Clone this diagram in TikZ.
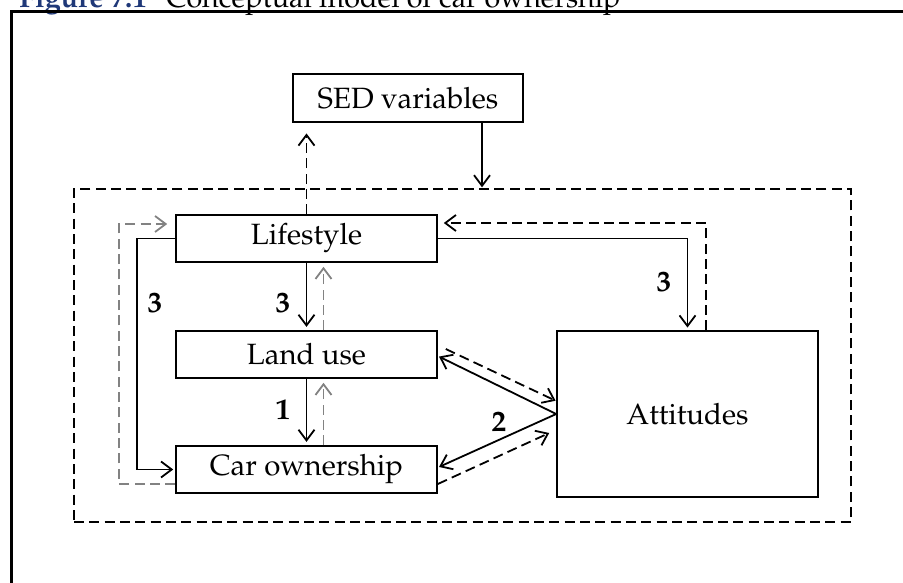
\documentclass[tikz,border=0pt]{standalone}
\usepackage[T1]{fontenc}
\usepackage{mathpazo}
\usetikzlibrary{arrows.meta,calc}
\definecolor{capblue}{RGB}{31,56,120}
\definecolor{fbgray}{RGB}{130,130,130}
\tikzset{
  box/.style={draw, line width=1.2pt, inner sep=0pt,
    minimum width=195.75pt, minimum height=35.25pt,
    font=\fontsize{22}{26}\selectfont},
  arr/.style={line width=1.35pt,
    -{Straight Barb[length=8pt,width=12pt,line width=1.35pt]}},
  dsh/.style={dash pattern=on 7.5pt off 4pt},
  fb/.style={draw=fbgray, dsh},
  num/.style={font=\fontsize{22}{26}\selectfont\bfseries, inner sep=0pt},
  capfont/.style={font=\fontsize{21.5}{26}\selectfont, inner sep=0pt},
}
\begin{document}
\begin{tikzpicture}[x=0.75pt, y=-0.75pt]
  \useasboundingbox (0,0) rectangle (903,582);
  \clip (0,0) rectangle (903,582);

  % caption and frame
  \node[capfont, anchor=base east, text=capblue] (fig) at (147,7) {\bfseries Figure 7.1};
  \node[capfont, anchor=base west] (cap) at (166,7) {Conceptual model of car ownership};
  \draw[line width=2.25pt] (11.5,600) -- (11.5,11.5) -- (920,11.5);

  % boxes
  \node[box, minimum width=172.5pt, minimum height=36pt] (sed) at (408,98) {SED variables};
  \node[draw, dsh, line width=1.5pt, inner sep=0pt,
        minimum width=582.75pt, minimum height=249.75pt] (frame) at (462.5,355.5) {};
  \node[box] (life) at (306.5,238.5) {Lifestyle};
  \node[box] (land) at (306.5,354.5) {Land use};
  \node[box] (car)  at (306.5,469.5) {Car ownership};
  \node[box, minimum height=124.5pt] (att) at (687.5,414) {Attitudes};

  % SED variables <-> system
  \coordinate (sedout) at ($(sed.south)+(74,0)$);
  \draw[arr, shorten >=0.5pt] (sedout) -- (sedout |- frame.north);
  \draw[arr, dsh, shorten >=8pt] (life.north) -- (life.north |- sed.south);

  % vertical chain
  \draw[arr, shorten >=2.5pt] (life.south) -- (land.north);
  \draw[arr, shorten >=2.5pt] (land.south) -- (car.north);
  \draw[arr, fb, shorten >=3pt] ($(land.north)+(17,0)$) -- ($(life.south)+(17,0)$);
  \draw[arr, fb, shorten >=3pt] ($(car.north)+(17,0)$) -- ($(land.south)+(17,0)$);

  % left loop
  \draw[arr, shorten >=1.5pt] (life.west) -- ++(-38,0) |- (car.west);
  \draw[arr, fb, shorten >=6pt] ($(car.west)+(0,14.5)$) -- ++(-56,0) |- ($(life.west)+(0,-14.5)$);

  % lifestyle <-> attitudes
  \draw[arr, shorten >=2pt] (life.east) -| (att.north);
  \draw[arr, dsh, shorten >=4.5pt] ($(att.north)+(18.5,0)$) |- ($(life.east)+(0,-15.5)$);

  % attitudes <-> land use, car ownership
  \draw[arr, shorten >=1pt] (att.west) -- ($(land.east)+(0,1.5)$);
  \draw[arr, shorten >=1pt] (att.west) -- ($(car.east)+(0,-2)$);
  \draw[arr, dsh, shorten >=0.5pt] ($(land.east)+(8,-5.5)$) -- ($(att.west)+(0,-13)$);
  \draw[arr, dsh] ($(car.east)+(0,14.5)$) -- ($(att.west)+(-7,19)$);

  % path labels
  \node[num] (l3a) at (283,303) {3};
  \node[num] (l1)  at (283,410) {1};
  \node[num] (l3b) at (155,303) {3};
  \node[num] (l3c) at (664,282) {3};
  \node[num] (l2)  at (499,422) {2};
\end{tikzpicture}
\end{document}
